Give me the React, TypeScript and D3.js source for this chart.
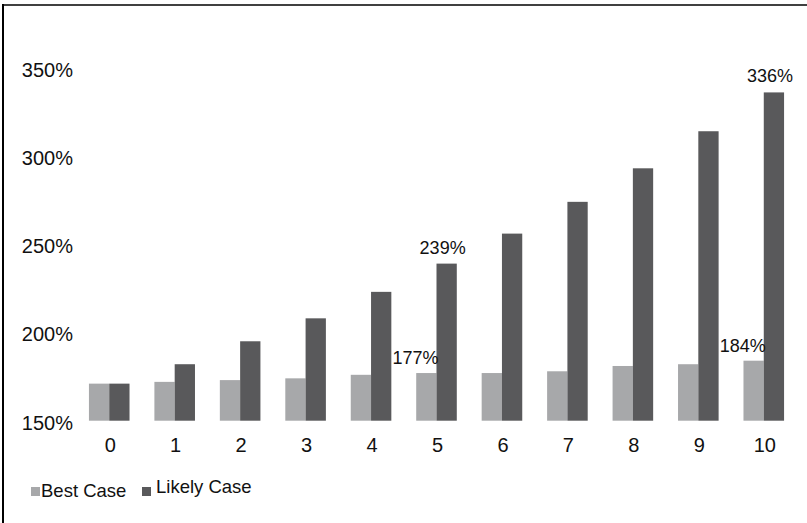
import React from "react";
import * as d3 from "d3";

const categories = ["0", "1", "2", "3", "4", "5", "6", "7", "8", "9", "10"];
const bestCase = [171, 172, 173, 174, 176, 177, 177, 178, 181, 182, 184];
const likelyCase = [171, 182, 195, 208, 223, 239, 256, 274, 293, 314, 336];
const yTicks = [150, 200, 250, 300, 350];
const seriesNames = ["Best Case", "Likely Case"];
const annotations = [
  { series: 0, index: 5 },
  { series: 1, index: 5 },
  { series: 0, index: 10 },
  { series: 1, index: 10 },
];

const W = 807;
const H = 523;
const colors = ["#a7a8aa", "#59595b"];
const font = "'Liberation Sans', Arial, sans-serif";

export default function App() {
  const x = d3.scaleBand<string>().domain(categories).range([76.5, 796.5]).paddingInner(0.38).paddingOuter(0.19);
  const y = d3.scaleLinear().domain([150, 350]).range([420.7, 67.7]);
  const sub = d3.scaleBand<number>().domain([0, 1]).range([0, x.bandwidth()]);
  const series = [bestCase, likelyCase];

  return (
    <svg width={W} height={H} style={{ position: "absolute", left: 0, top: 0, background: "#fff" }} fontFamily={font}>
      <rect x={0} y={0} width={W} height={H} fill="#fff" />
      <line x1={3} y1={4} x2={3} y2={H} stroke="#000" strokeWidth={2} />
      <line x1={2} y1={5} x2={W} y2={5} stroke="#000" strokeWidth={1.5} />
      {yTicks.map((t) => (
        <text key={t} x={73} y={y(t) + 2} textAnchor="end" dominantBaseline="central" fontSize={20} fill="#111">
          {t}%
        </text>
      ))}
      {series.map((vals, si) =>
        vals.map((v, i) => (
          <rect
            key={`${si}-${i}`}
            x={(x(categories[i]) as number) + (sub(si) as number)}
            y={y(v)}
            width={sub.bandwidth()}
            height={y(150) - y(v)}
            fill={colors[si]}
          />
        ))
      )}
      {categories.map((c) => (
        <text key={c} x={(x(c) as number) + x.bandwidth() / 2 + 1} y={445} textAnchor="middle" dominantBaseline="central" fontSize={20} fill="#111">
          {c}
        </text>
      ))}
      {annotations.map((a) => {
        const v = series[a.series][a.index];
        const left = (x(categories[a.index]) as number) + (sub(a.series) as number);
        if (a.series === 0) {
          return (
            <text key={`${a.series}-${a.index}`} x={left + sub.bandwidth() + 2} y={y(v) - 15} textAnchor="end" dominantBaseline="central" fontSize={18} fill="#111">
              {v}%
            </text>
          );
        }
        return (
          <text key={`${a.series}-${a.index}`} x={left + sub.bandwidth() / 2 - 4} y={y(v) - 16} textAnchor="middle" dominantBaseline="central" fontSize={18} fill="#111">
            {v}%
          </text>
        );
      })}
      <g>
        <rect x={31} y={487} width={9} height={9} fill={colors[0]} />
        <text x={41} y={490} dominantBaseline="central" fontSize={18.5} fill="#111">{seriesNames[0]}</text>
        <rect x={142} y={487} width={9} height={9} fill={colors[1]} />
        <text x={156} y={486} dominantBaseline="central" fontSize={18.5} fill="#111">{seriesNames[1]}</text>
      </g>
    </svg>
  );
}
